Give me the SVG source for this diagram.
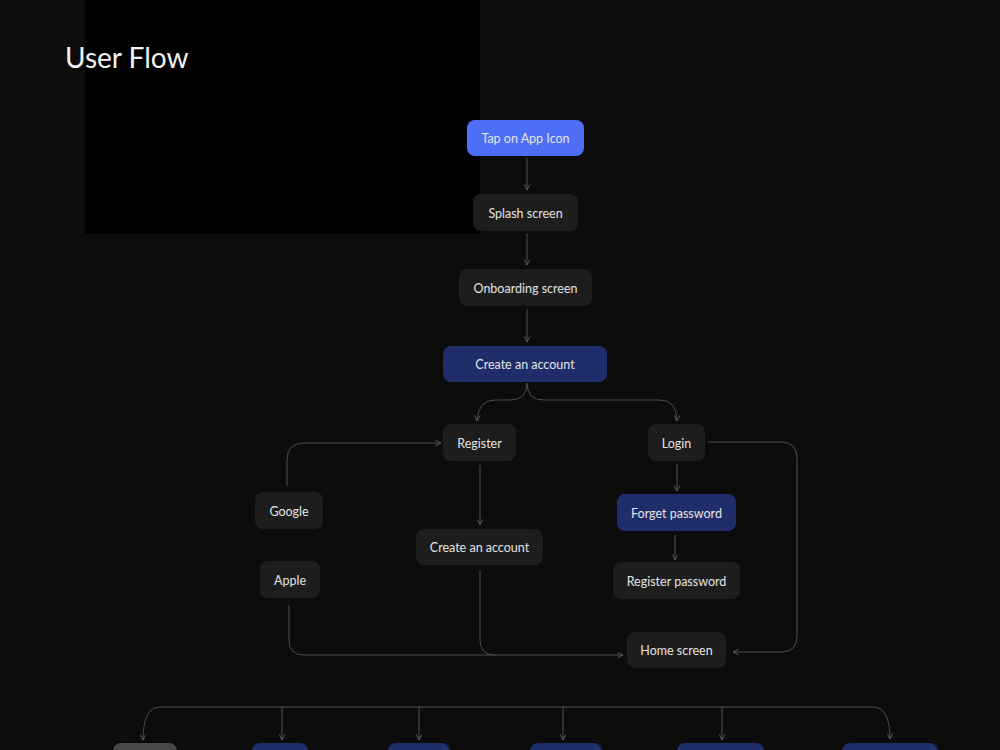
<svg xmlns="http://www.w3.org/2000/svg" width="1000" height="750" viewBox="0 0 1000 750">
<defs>
<style>
.n{fill:#1d1d1d}
.b{fill:#1f2e6a}
.t{font-family:Lato,"Noto Sans",sans-serif;font-size:12.5px;fill:#e4e4e4;text-anchor:middle;dominant-baseline:central}
.c{fill:none;stroke:#4e4e4e;stroke-width:1}
</style>
<marker id="a" viewBox="0 0 10 10" refX="9" refY="5" markerWidth="7" markerHeight="7" orient="auto-start-reverse" markerUnits="userSpaceOnUse">
<path d="M1,1 L9,5 L1,9" fill="none" stroke="#666" stroke-width="1.2"/>
</marker>
</defs>
<rect width="1000" height="750" fill="#0c0c0c"/>
<rect x="85" y="0" width="395" height="234" fill="#000"/>
<text x="65" y="68" font-family="Lato,'Noto Sans',sans-serif" font-size="28" font-weight="400" fill="#f2f2f2">User Flow</text>

<g id="connectors">
<path class="c" marker-end="url(#a)" d="M527,158 V190"/>
<path class="c" marker-end="url(#a)" d="M527,233 V265"/>
<path class="c" marker-end="url(#a)" d="M527,309 V342"/>
<path class="c" marker-end="url(#a)" d="M527,383 Q527,400 510,400 H495 Q478,400 477,421"/>
<path class="c" marker-end="url(#a)" d="M527,383 Q527,400 544,400 H660 Q677,400 677,421"/>
<path class="c" marker-end="url(#a)" d="M287,486 V460 Q287,443 304,443 H441"/>
<path class="c" marker-end="url(#a)" d="M480,465 V525"/>
<path class="c" marker-end="url(#a)" d="M677,464 V491"/>
<path class="c" marker-end="url(#a)" d="M675,535 V560"/>
<path class="c" marker-end="url(#a)" d="M708,442 H781 Q797,442 797,458 V636 Q797,652 781,652 H733"/>
<path class="c" marker-end="url(#a)" d="M289,605 V640 Q289,655 304,655 H623"/>
<path class="c" d="M480,570 V640 Q480,655 495,655"/>
<path class="c" marker-end="url(#a)" d="M160,707 Q143,707 143,740"/>
<path class="c" marker-end="url(#a)" d="M160,707 H873 Q890,707 890,739"/>
<path class="c" marker-end="url(#a)" d="M282,707 V740"/>
<path class="c" marker-end="url(#a)" d="M419,707 V740"/>
<path class="c" marker-end="url(#a)" d="M563,707 V740"/>
<path class="c" marker-end="url(#a)" d="M722,707 V740"/>
</g>

<g id="tap"><rect x="467" y="120" width="117" height="36" rx="8" fill="#4e6ef6"/><text class="t" x="525.5" y="138">Tap on App Icon</text></g>
<g id="splash"><rect class="n" x="473" y="194" width="105" height="37" rx="8"/><text class="t" x="525.5" y="213">Splash screen</text></g>
<g id="onboarding"><rect class="n" x="459" y="269" width="133" height="37" rx="8"/><text class="t" x="525.5" y="288">Onboarding screen</text></g>
<g id="create1"><rect class="b" x="443" y="346" width="164" height="36" rx="8"/><text class="t" x="525" y="364">Create an account</text></g>
<g id="register"><rect class="n" x="443" y="424" width="73" height="37" rx="8"/><text class="t" x="479.5" y="443">Register</text></g>
<g id="login"><rect class="n" x="648" y="424" width="57" height="37" rx="8"/><text class="t" x="676.5" y="443">Login</text></g>
<g id="google"><rect class="n" x="255" y="492" width="68" height="37" rx="8"/><text class="t" x="289" y="511">Google</text></g>
<g id="create2"><rect class="n" x="416" y="529" width="127" height="36" rx="8"/><text class="t" x="479.5" y="547">Create an account</text></g>
<g id="forget"><rect class="b" x="617" y="494" width="119" height="37" rx="8"/><text class="t" x="676.5" y="513">Forget password</text></g>
<g id="apple"><rect class="n" x="260" y="561" width="60" height="37" rx="8"/><text class="t" x="290" y="580">Apple</text></g>
<g id="regpass"><rect class="n" x="613" y="562" width="127" height="37" rx="8"/><text class="t" x="676.5" y="581">Register password</text></g>
<g id="home"><rect class="n" x="627" y="632" width="99" height="36" rx="8"/><text class="t" x="676.5" y="650">Home screen</text></g>

<g id="b1"><rect x="113" y="743" width="64" height="30" rx="8" fill="#484848"/></g>
<g id="b2"><rect class="b" x="252" y="743" width="56" height="30" rx="8"/></g>
<g id="b3"><rect class="b" x="388" y="743" width="62" height="30" rx="8"/></g>
<g id="b4"><rect class="b" x="530" y="743" width="72" height="30" rx="8"/></g>
<g id="b5"><rect class="b" x="677" y="743" width="87" height="30" rx="8"/></g>
<g id="b6"><rect class="b" x="842" y="743" width="96" height="30" rx="8"/></g>
</svg>
